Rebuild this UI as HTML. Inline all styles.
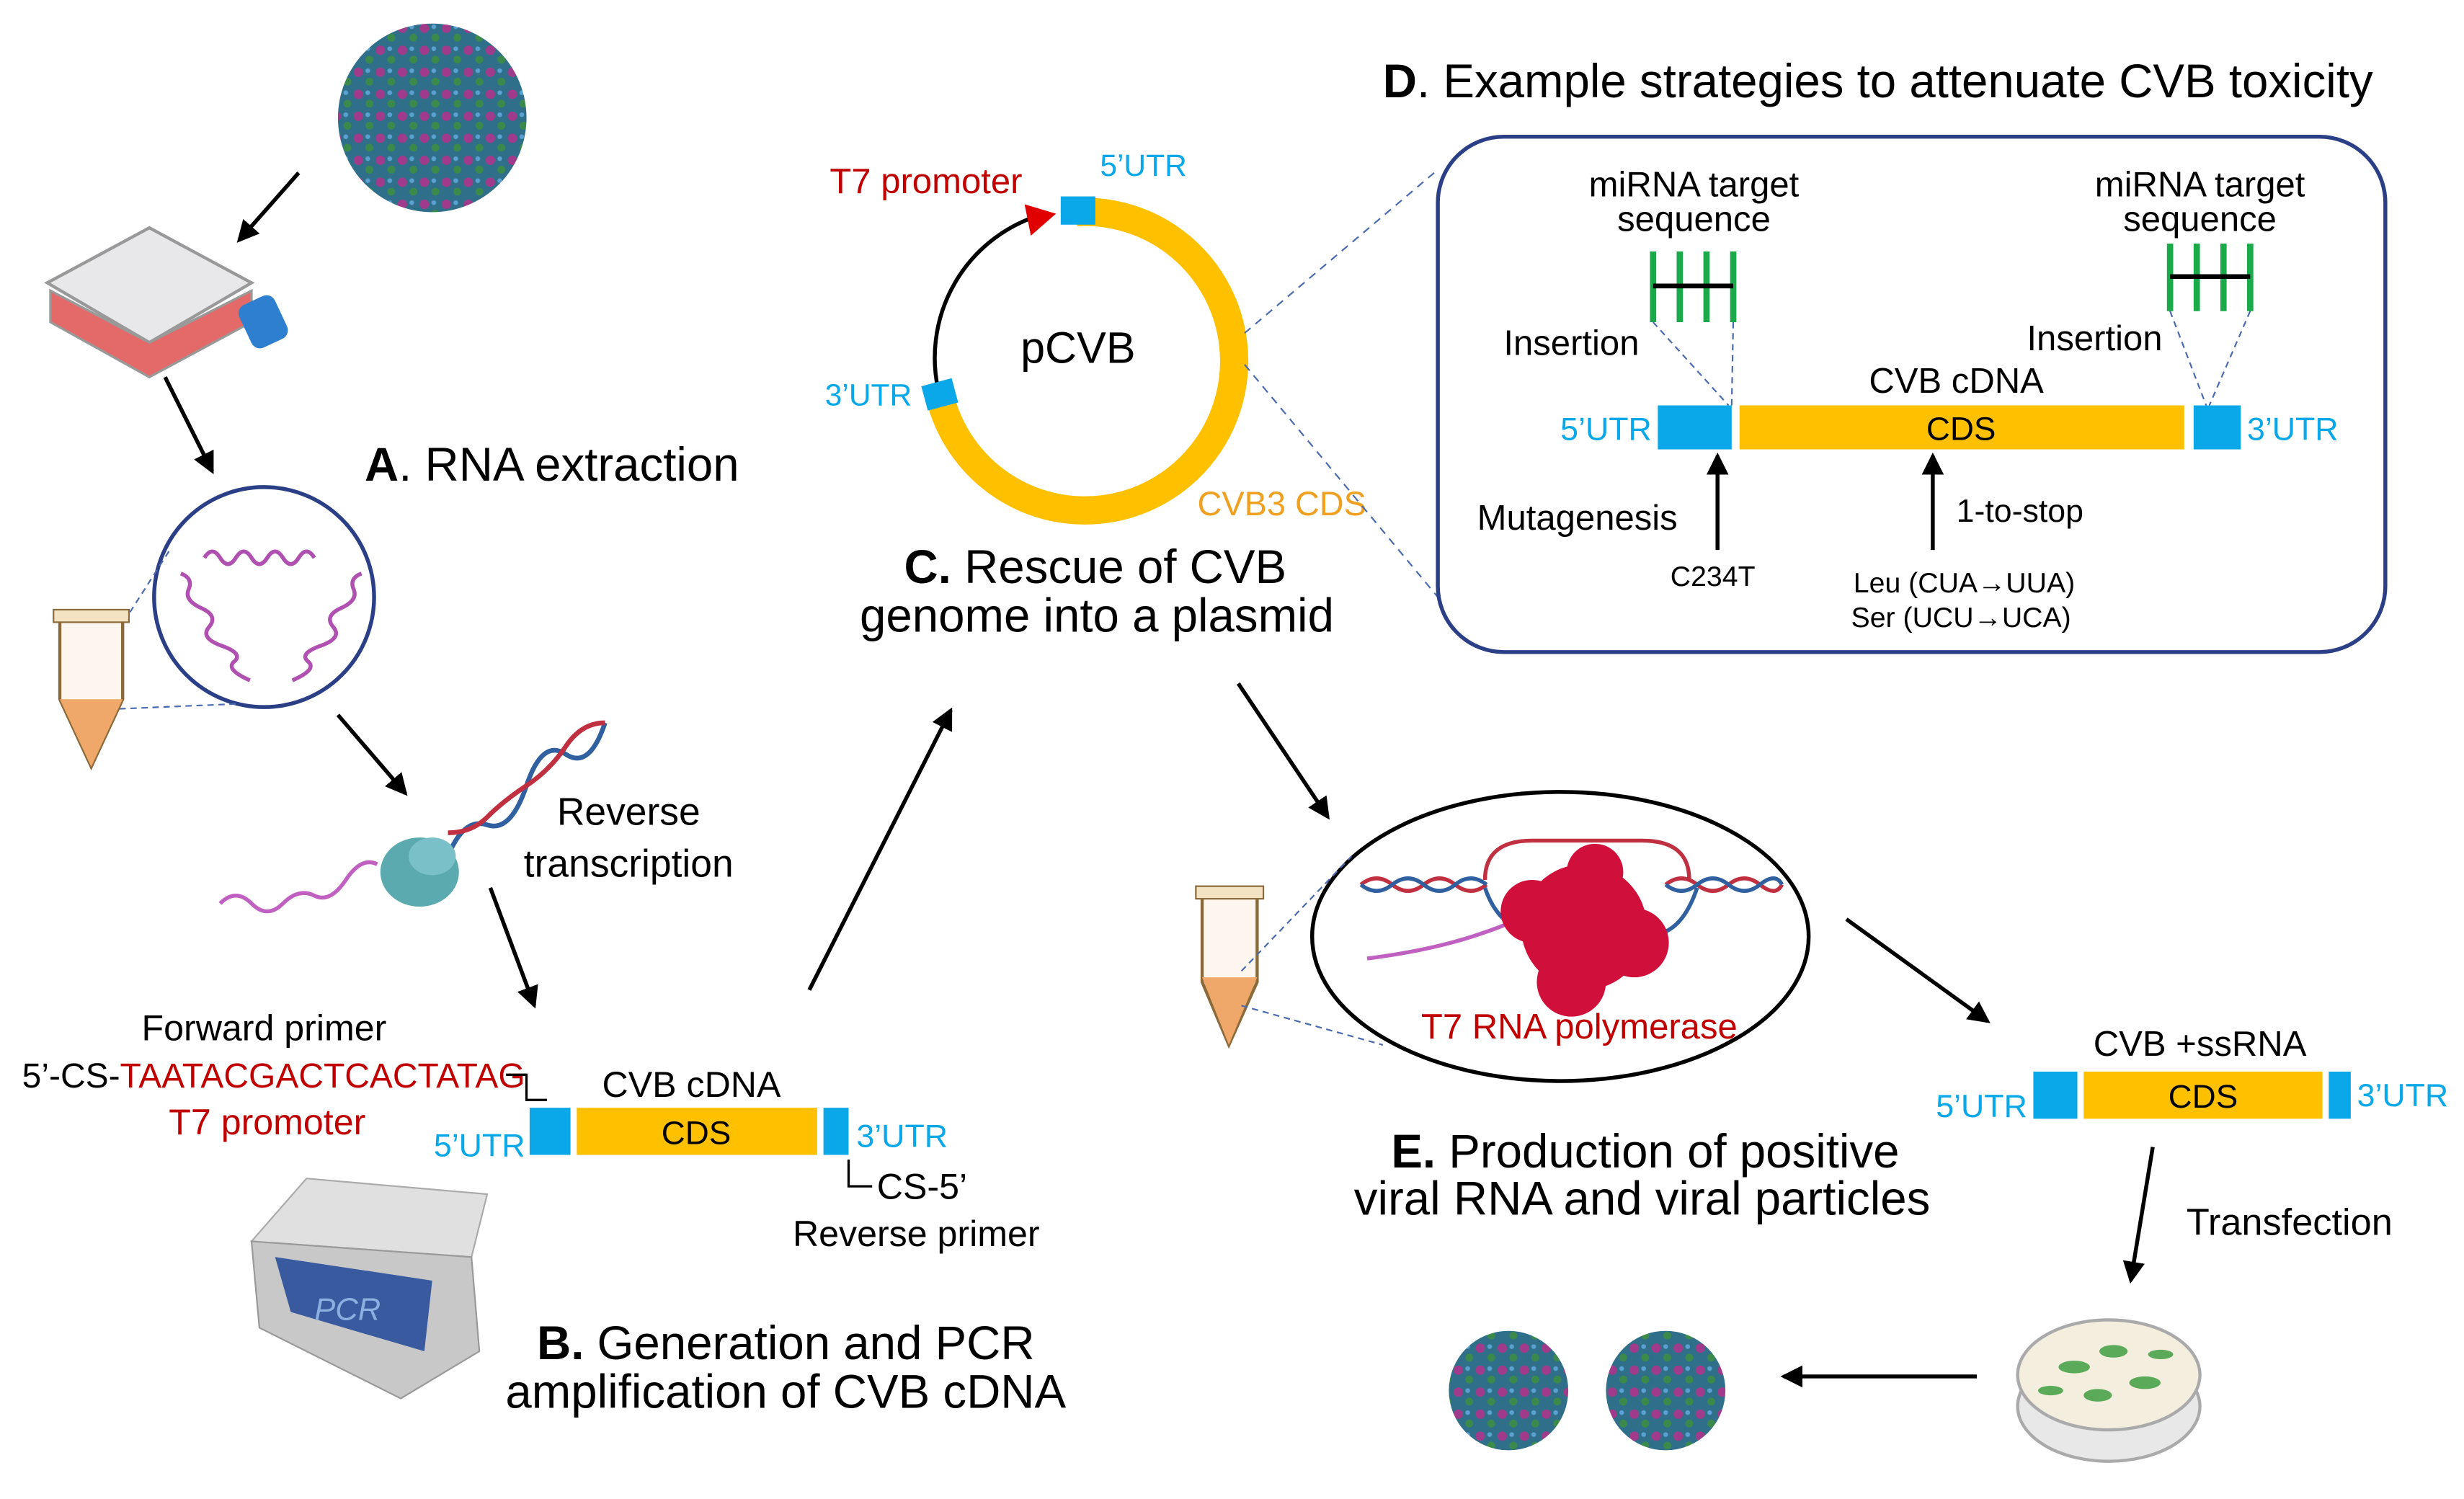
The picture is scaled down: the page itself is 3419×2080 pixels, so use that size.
<!DOCTYPE html>
<html><head><meta charset="utf-8"><style>
html,body{margin:0;padding:0;background:#fff;}
svg{display:block;}
text{font-family:"Liberation Sans",sans-serif;}
</style></head><body>
<svg width="3419" height="2080" viewBox="0 0 1568 954" xmlns="http://www.w3.org/2000/svg">
<defs>
<marker id="ahs" markerWidth="14" markerHeight="14" refX="12" refY="7" orient="auto" markerUnits="userSpaceOnUse"><path d="M0,0 L14,7 L0,14 z" fill="#000"/></marker>
<pattern id="vp" width="14" height="14" patternUnits="userSpaceOnUse"><rect width="14" height="14" fill="#2f6f8a"/><circle cx="4" cy="4" r="3" fill="#a03a8a"/><circle cx="11" cy="10" r="2.5" fill="#3b8a4b"/><circle cx="10" cy="3" r="1.5" fill="#5aa0d0"/></pattern>
</defs>
<g stroke="#000" stroke-width="2.5" fill="none">
<line x1="190" y1="110" x2="152" y2="153" marker-end="url(#ahs)"/>
<line x1="105" y1="240" x2="135" y2="300" marker-end="url(#ahs)"/>
<line x1="215" y1="455" x2="258" y2="505" marker-end="url(#ahs)"/>
<line x1="312" y1="565" x2="340" y2="640" marker-end="url(#ahs)"/>
<line x1="515" y1="630" x2="605" y2="452" marker-end="url(#ahs)"/>
<line x1="788" y1="435" x2="845" y2="520" marker-end="url(#ahs)"/>
<line x1="1175" y1="585" x2="1265" y2="650" marker-end="url(#ahs)"/>
<line x1="1370" y1="730" x2="1356" y2="815" marker-end="url(#ahs)"/>
<line x1="1258" y1="876" x2="1135" y2="876" marker-end="url(#ahs)"/>
</g>
<circle cx="275" cy="75" r="60" fill="url(#vp)"/>
<circle cx="960" cy="885" r="38" fill="url(#vp)"/>
<circle cx="1060" cy="885" r="38" fill="url(#vp)"/>
<g>
<path d="M30,180 L95,145 L160,180 L95,218 Z" fill="#e8e8ea" stroke="#999" stroke-width="2"/>
<path d="M32,185 L95,218 L160,185 L160,205 L95,240 L32,205 Z" fill="#e46a6a" stroke="#999" stroke-width="1.5"/>
<rect x="155" y="190" width="25" height="30" rx="6" fill="#2f7fd0" transform="rotate(-25 167 205)"/>
</g>
<circle cx="168" cy="380" r="70" fill="#fff" stroke="#2b3f87" stroke-width="2.5"/>
<path d="M130,355 q5,-8 10,0 t10,0 t10,0 t10,0 t10,0 t10,0 t10,0" fill="none" stroke="#b050b0" stroke-width="2.5"/>
<path d="M115,365 q8,3 5,10 t8,12 t5,12 t8,12 t8,10 t10,12" fill="none" stroke="#b050b0" stroke-width="2.5"/>
<path d="M230,365 q-8,3 -5,10 t-8,12 t-5,12 t-8,12 t-8,10 t-10,12" fill="none" stroke="#b050b0" stroke-width="2.5"/>
<line x1="55" y1="452" x2="150" y2="448" stroke="#4a6ab0" stroke-dasharray="4,3"/>
<line x1="60" y1="425" x2="108" y2="350" stroke="#4a6ab0" stroke-dasharray="4,3"/>
<path d="M38,395 L78,395 L78,445 L58,488 L38,445 Z" fill="#fdf6ee" stroke="#8a6a3a" stroke-width="2"/>
<path d="M38,445 L78,445 L58,488 Z" fill="#f0a86a"/>
<rect x="34" y="388" width="48" height="8" fill="#f3e3c3" stroke="#8a6a3a"/>
<text x="232" y="306" font-size="30"><tspan font-weight="bold">A</tspan>. RNA extraction</text>
<path d="M140,575 q10,-10 20,0 t20,0 t20,-5 t20,-10 t20,-10" fill="none" stroke="#c060c0" stroke-width="2.5"/>
<path d="M285,545 q10,-25 25,-20 t25,-25 t25,-20 t25,-20" fill="none" stroke="#3060a0" stroke-width="3"/>
<path d="M285,530 q15,0 25,-10 t25,-20 t25,-25 t25,-15" fill="none" stroke="#c03040" stroke-width="3"/>
<ellipse cx="267" cy="555" rx="25" ry="22" fill="#5aaab0"/>
<ellipse cx="275" cy="545" rx="15" ry="12" fill="#7ac0c8"/>
<text x="400" y="525" font-size="24.5" text-anchor="middle">Reverse</text>
<text x="400" y="558" font-size="24.5" text-anchor="middle">transcription</text>
<text x="168" y="662" font-size="23" text-anchor="middle">Forward primer</text>
<text x="14" y="692" font-size="22">5’-CS-<tspan fill="#c00000">TAATACGACTCACTATAG</tspan></text>
<text x="170" y="722" font-size="23" fill="#c00000" text-anchor="middle">T7 promoter</text>
<path d="M322,684 L335,684 L335,700 L348,700" fill="none" stroke="#000" stroke-width="1.5"/>
<text x="440" y="698" font-size="23" text-anchor="middle">CVB cDNA</text>
<rect x="337" y="705" width="26" height="30" fill="#0aa8e8"/>
<rect x="367" y="705" width="153" height="30" fill="#ffc000"/>
<rect x="524" y="705" width="16" height="30" fill="#0aa8e8"/>
<text x="443" y="728" font-size="21" text-anchor="middle">CDS</text>
<text x="276" y="736" font-size="20.5" fill="#0aa8e8">5’UTR</text>
<text x="545" y="730" font-size="20.5" fill="#0aa8e8">3’UTR</text>
<path d="M540,738 L540,755 L555,755" fill="none" stroke="#000" stroke-width="1.5"/>
<text x="558" y="763" font-size="23">CS-5’</text>
<text x="583" y="793" font-size="23" text-anchor="middle">Reverse primer</text>
<path d="M160,790 L195,750 L310,760 L300,800 Z" fill="#e0e0e0" stroke="#aaa"/>
<path d="M160,790 L300,800 L305,860 L255,890 L165,845 Z" fill="#c8c8c8" stroke="#999"/>
<path d="M175,800 L275,815 L270,860 L185,835 Z" fill="#3a5aa0"/>
<text x="200" y="840" font-size="20" fill="#8ab0e0" font-style="italic">PCR</text>
<text x="500" y="865" font-size="30" text-anchor="middle"><tspan font-weight="bold">B.</tspan> Generation and PCR</text>
<text x="500" y="896" font-size="30" text-anchor="middle">amplification of CVB cDNA</text>
<path d="M685,135 A95,95 0 1 1 598,252" fill="none" stroke="#ffc000" stroke-width="18"/>
<path d="M598,252 A95,95 0 0 1 665,136" fill="none" stroke="#000" stroke-width="2.5"/>
<path d="M652,130 L672,136 L656,150 Z" fill="#e00000"/>
<rect x="675" y="125" width="22" height="18" fill="#0aa8e8"/>
<rect x="588" y="243" width="20" height="16" fill="#0aa8e8" transform="rotate(-15 598 251)"/>
<text x="528" y="123" font-size="22.5" fill="#c00000">T7 promoter</text>
<text x="700" y="112" font-size="19.5" fill="#0aa8e8">5’UTR</text>
<text x="525" y="258" font-size="19.5" fill="#0aa8e8">3’UTR</text>
<text x="686" y="231" font-size="28" text-anchor="middle">pCVB</text>
<text x="762" y="328" font-size="21.5" fill="#f0a020">CVB3 CDS</text>
<text x="697" y="371" font-size="30" text-anchor="middle"><tspan font-weight="bold">C.</tspan> Rescue of CVB</text>
<text x="698" y="402" font-size="30" text-anchor="middle">genome into a plasmid</text>
<text x="880" y="62" font-size="30"><tspan font-weight="bold">D</tspan>. Example strategies to attenuate CVB toxicity</text>
<line x1="792" y1="212" x2="915" y2="108" stroke="#4a6ab0" stroke-dasharray="5,4"/>
<line x1="792" y1="232" x2="915" y2="380" stroke="#4a6ab0" stroke-dasharray="5,4"/>
<rect x="915" y="87" width="603" height="328" rx="42" fill="#fff" stroke="#2b3f87" stroke-width="2.5"/>
<text x="1078" y="125" font-size="22.5" text-anchor="middle">miRNA target</text>
<text x="1078" y="147" font-size="22.5" text-anchor="middle">sequence</text>
<text x="1400" y="125" font-size="22.5" text-anchor="middle">miRNA target</text>
<text x="1400" y="147" font-size="22.5" text-anchor="middle">sequence</text>
<g stroke="#1aaa4a" stroke-width="4">
<line x1="1052" y1="160" x2="1052" y2="205"/><line x1="1069" y1="160" x2="1069" y2="205"/><line x1="1086" y1="160" x2="1086" y2="205"/><line x1="1103" y1="160" x2="1103" y2="205"/>
<line x1="1381" y1="155" x2="1381" y2="198"/><line x1="1398" y1="155" x2="1398" y2="198"/><line x1="1415" y1="155" x2="1415" y2="198"/><line x1="1432" y1="155" x2="1432" y2="198"/>
</g>
<line x1="1052" y1="182" x2="1103" y2="182" stroke="#000" stroke-width="3"/>
<line x1="1381" y1="176" x2="1432" y2="176" stroke="#000" stroke-width="3"/>
<g stroke="#4a6ab0" stroke-dasharray="4,3">
<line x1="1052" y1="205" x2="1100" y2="258"/><line x1="1103" y1="205" x2="1102" y2="258"/>
<line x1="1381" y1="198" x2="1404" y2="258"/><line x1="1432" y1="198" x2="1406" y2="258"/>
</g>
<text x="1000" y="226" font-size="22.5" text-anchor="middle">Insertion</text>
<text x="1333" y="223" font-size="22.5" text-anchor="middle">Insertion</text>
<text x="1245" y="250" font-size="22.5" text-anchor="middle">CVB cDNA</text>
<text x="993" y="280" font-size="20.5" fill="#0aa8e8">5’UTR</text>
<rect x="1055" y="258" width="47" height="28" fill="#0aa8e8"/>
<rect x="1107" y="258" width="283" height="28" fill="#ffc000"/>
<rect x="1396" y="258" width="30" height="28" fill="#0aa8e8"/>
<text x="1248" y="280" font-size="21" text-anchor="middle">CDS</text>
<text x="1430" y="280" font-size="20.5" fill="#0aa8e8">3’UTR</text>
<line x1="1093" y1="350" x2="1093" y2="290" stroke="#000" stroke-width="2.5" marker-end="url(#ahs)"/>
<line x1="1230" y1="350" x2="1230" y2="290" stroke="#000" stroke-width="2.5" marker-end="url(#ahs)"/>
<text x="940" y="337" font-size="22.5">Mutagenesis</text>
<text x="1090" y="373" font-size="18" text-anchor="middle">C234T</text>
<text x="1245" y="332" font-size="20.5">1-to-stop</text>
<text x="1250" y="377" font-size="18" text-anchor="middle">Leu (CUA→UUA)</text>
<text x="1248" y="399" font-size="18" text-anchor="middle">Ser (UCU→UCA)</text>
<ellipse cx="993" cy="596" rx="158" ry="92" fill="#fff" stroke="#000" stroke-width="2.5"/>
<path d="M765,570 L800,570 L800,625 L782,665 L765,625 Z" fill="#fdf6ee" stroke="#8a6a3a" stroke-width="2"/>
<path d="M765,622 L800,622 L782,665 Z" fill="#f0a86a"/>
<rect x="761" y="564" width="43" height="8" fill="#f3e3c3" stroke="#8a6a3a"/>
<line x1="790" y1="618" x2="860" y2="545" stroke="#4a6ab0" stroke-dasharray="4,3"/>
<line x1="790" y1="640" x2="880" y2="665" stroke="#4a6ab0" stroke-dasharray="4,3"/>
<path d="M866,563 q10,-8 20,0 t20,0 t20,0 t20,0 M1060,563 q10,-8 20,0 t20,0 t20,0 t14,0" fill="none" stroke="#c03040" stroke-width="2.5"/>
<path d="M866,563 q10,8 20,0 t20,0 t20,0 t20,0 M1060,563 q10,8 20,0 t20,0 t20,0 t14,0" fill="none" stroke="#3060a0" stroke-width="2.5"/>
<path d="M945,560 q0,-25 30,-25 l70,0 q30,0 30,25" fill="none" stroke="#c03040" stroke-width="2.5"/>
<path d="M945,565 q10,30 40,30 M1050,595 q20,0 30,-30" fill="none" stroke="#3060a0" stroke-width="2.5"/>
<path d="M870,610 q40,-5 70,-15 t20,-10" fill="none" stroke="#c060c0" stroke-width="2.5"/>
<g fill="#d0103a">
<circle cx="1008" cy="590" r="40"/><circle cx="975" cy="580" r="20"/><circle cx="1040" cy="600" r="22"/><circle cx="1000" cy="625" r="22"/><circle cx="1015" cy="555" r="18"/>
</g>
<text x="1005" y="661" font-size="22.5" fill="#c00000" text-anchor="middle">T7 RNA polymerase</text>
<text x="1047" y="743" font-size="30" text-anchor="middle"><tspan font-weight="bold">E.</tspan> Production of positive</text>
<text x="1045" y="773" font-size="30" text-anchor="middle">viral RNA and viral particles</text>
<text x="1400" y="672" font-size="22.5" text-anchor="middle">CVB +ssRNA</text>
<rect x="1294" y="682" width="28" height="30" fill="#0aa8e8"/>
<rect x="1326" y="682" width="152" height="30" fill="#ffc000"/>
<rect x="1482" y="682" width="14" height="30" fill="#0aa8e8"/>
<text x="1402" y="705" font-size="21" text-anchor="middle">CDS</text>
<text x="1232" y="711" font-size="20.5" fill="#0aa8e8">5’UTR</text>
<text x="1500" y="704" font-size="20.5" fill="#0aa8e8">3’UTR</text>
<text x="1457" y="786" font-size="24" text-anchor="middle">Transfection</text>
<ellipse cx="1342" cy="895" rx="58" ry="35" fill="#e8e8e8" stroke="#aaa" stroke-width="2"/>
<ellipse cx="1342" cy="875" rx="58" ry="35" fill="#f3eede" stroke="#aaa" stroke-width="2"/>
<g fill="#5aaa5a"><ellipse cx="1320" cy="870" rx="10" ry="4"/><ellipse cx="1345" cy="860" rx="9" ry="4"/><ellipse cx="1365" cy="880" rx="10" ry="4"/><ellipse cx="1335" cy="888" rx="9" ry="4"/><ellipse cx="1305" cy="885" rx="8" ry="3"/><ellipse cx="1375" cy="862" rx="8" ry="3"/></g>
</svg>
</body></html>
